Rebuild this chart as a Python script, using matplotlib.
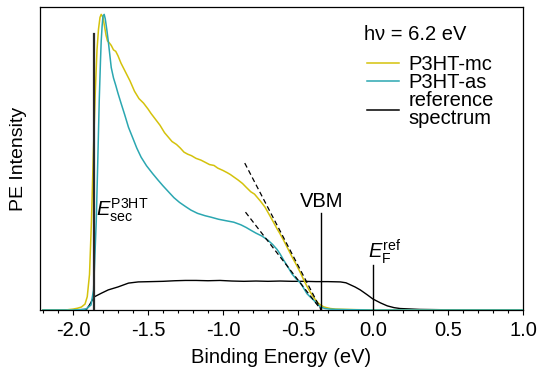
import matplotlib
matplotlib.use("Agg")
import matplotlib.pyplot as plt
from matplotlib.ticker import MultipleLocator

plt.rcParams['font.family'] = ['Liberation Sans', 'DejaVu Sans']
plt.rcParams['mathtext.fontset'] = 'custom'
plt.rcParams['mathtext.rm'] = 'Liberation Sans'
plt.rcParams['mathtext.it'] = 'Liberation Sans:italic'
plt.rcParams['mathtext.bf'] = 'Liberation Sans:bold'

FS = 14.5

# P3HT-mc spectrum (binding energy in eV, normalised intensity)
mc_energy = [-2.20, -2.05, -2.00, -1.97, -1.944, -1.92, -1.905, -1.89, -1.877, -1.865,
             -1.852, -1.84, -1.83, -1.82, -1.812, -1.80, -1.79, -1.78, -1.77, -1.76,
             -1.745, -1.73, -1.715, -1.70, -1.68, -1.66, -1.645, -1.62, -1.59, -1.56,
             -1.53, -1.50, -1.48, -1.45, -1.42, -1.39, -1.365, -1.34, -1.31, -1.285,
             -1.26, -1.235, -1.21, -1.18, -1.147, -1.12, -1.09, -1.06, -1.035, -1.00,
             -0.97, -0.95, -0.928, -0.90, -0.87, -0.845, -0.815, -0.79, -0.77, -0.75,
             -0.72, -0.70, -0.67, -0.64, -0.62, -0.596, -0.57, -0.54, -0.51, -0.483,
             -0.46, -0.44, -0.42, -0.397, -0.38, -0.365, -0.35, -0.33, -0.31, -0.284,
             -0.25, -0.18, -0.10, 0.0, 0.3, 0.6, 1.0]
mc_intensity = [0.0, 0.0, 0.003, 0.006, 0.010, 0.020, 0.045, 0.120, 0.300, 0.520,
                0.730, 0.880, 0.950, 0.990, 1.000, 0.990, 0.960, 0.930, 0.910, 0.905,
                0.895, 0.880, 0.875, 0.860, 0.835, 0.815, 0.800, 0.775, 0.740, 0.715,
                0.700, 0.680, 0.665, 0.645, 0.625, 0.600, 0.585, 0.570, 0.560, 0.548,
                0.534, 0.527, 0.522, 0.513, 0.507, 0.500, 0.492, 0.489, 0.480, 0.472,
                0.464, 0.458, 0.450, 0.440, 0.428, 0.415, 0.400, 0.392, 0.380, 0.368,
                0.348, 0.330, 0.303, 0.275, 0.258, 0.236, 0.210, 0.180, 0.152, 0.125,
                0.100, 0.080, 0.062, 0.044, 0.032, 0.023, 0.017, 0.011, 0.008, 0.005,
                0.003, 0.002, 0.001, 0.0, 0.0, 0.0, 0.0]

# P3HT-as spectrum
as_energy = [-2.20, -2.00, -1.93, -1.91, -1.88, -1.863, -1.845, -1.835, -1.825, -1.817,
             -1.812, -1.806, -1.80, -1.792, -1.785, -1.775, -1.765, -1.755, -1.745, -1.73,
             -1.715, -1.70, -1.68, -1.655, -1.63, -1.60, -1.575, -1.546, -1.51, -1.47,
             -1.434, -1.40, -1.36, -1.327, -1.29, -1.25, -1.214, -1.17, -1.12, -1.08,
             -1.03, -0.98, -0.928, -0.88, -0.845, -0.815, -0.78, -0.74, -0.70, -0.67,
             -0.64, -0.62, -0.596, -0.57, -0.54, -0.51, -0.483, -0.46, -0.44, -0.42,
             -0.397, -0.375, -0.35, -0.32, -0.29, -0.25, -0.15, 0.0, 0.5, 1.0]
as_intensity = [0.0, 0.0, 0.002, 0.004, 0.017, 0.068, 0.300, 0.500, 0.710, 0.840,
                0.910, 0.960, 0.995, 1.000, 0.985, 0.950, 0.910, 0.865, 0.820, 0.785,
                0.760, 0.733, 0.700, 0.660, 0.618, 0.580, 0.548, 0.517, 0.488, 0.462,
                0.440, 0.420, 0.398, 0.380, 0.364, 0.350, 0.338, 0.327, 0.319, 0.314,
                0.307, 0.302, 0.297, 0.288, 0.279, 0.270, 0.260, 0.250, 0.236, 0.222,
                0.205, 0.190, 0.169, 0.148, 0.122, 0.104, 0.091, 0.072, 0.055, 0.045,
                0.034, 0.022, 0.010, 0.005, 0.003, 0.002, 0.001, 0.0, 0.0, 0.0]

# Reference spectrum (metal, Fermi edge at 0 eV)
ref_energy = [-2.20, -2.00, -1.91, -1.89, -1.86, -1.81, -1.765, -1.70, -1.63, -1.565,
              -1.48, -1.40, -1.32, -1.25, -1.18, -1.10, -1.02, -0.94, -0.86, -0.78,
              -0.70, -0.62, -0.54, -0.46, -0.38, -0.30, -0.217, -0.18, -0.15, -0.12,
              -0.085, -0.04, 0.0, 0.05, 0.095, 0.14, 0.18, 0.31, 0.6, 1.0]
ref_intensity = [0.0, 0.0, 0.002, 0.017, 0.044, 0.057, 0.068, 0.078, 0.091, 0.095,
                 0.096, 0.097, 0.099, 0.100, 0.100, 0.099, 0.100, 0.098, 0.097, 0.098,
                 0.097, 0.098, 0.097, 0.097, 0.096, 0.096, 0.095, 0.092, 0.085, 0.078,
                 0.068, 0.052, 0.037, 0.024, 0.014, 0.008, 0.005, 0.002, 0.0, 0.0]

# Linear extrapolations of the leading edges
fit_mc_energy = [-0.855, -0.345]
fit_mc_intensity = [0.497, 0.0]
fit_as_energy = [-0.850, -0.345]
fit_as_intensity = [0.331, 0.0]

# Marker lines: energy and height
e_sec, e_sec_top = -1.86, 0.932
vbm, vbm_top = -0.345, 0.328
e_fermi, e_fermi_top = 0.0, 0.152

yellow = '#d4c20c'
teal = '#2ba7b1'

fig = plt.figure(figsize=(5.42, 3.70), dpi=100)
ax = fig.add_axes([40 / 542, 60 / 370, 483 / 542, 302.7 / 370])

ax.plot(ref_energy, ref_intensity, color='black', lw=1.0, label='reference\nspectrum', zorder=3)
ax.plot(mc_energy, mc_intensity, color=yellow, lw=1.1, label='P3HT-mc', zorder=4)
ax.plot(as_energy, as_intensity, color=teal, lw=1.1, label='P3HT-as', zorder=5)

ax.plot(fit_mc_energy, fit_mc_intensity, color='black', lw=0.9, ls=(0, (4, 2.5)), zorder=6)
ax.plot(fit_as_energy, fit_as_intensity, color='black', lw=0.9, ls=(0, (4, 2.5)), zorder=6)

ax.plot([e_sec, e_sec], [0, e_sec_top], color='#2a2a2a', lw=1.6, zorder=6)
ax.plot([vbm, vbm], [0, vbm_top], color='black', lw=1.0, zorder=6)
ax.plot([e_fermi, e_fermi], [0, e_fermi_top], color='black', lw=1.0, zorder=6)

ax.text(e_sec + 0.012, 0.316, r'$E_{\mathrm{sec}}^{\mathrm{P3HT}}$', fontsize=FS,
        ha='left', va='baseline')
ax.text(vbm, vbm_top + 0.008, 'VBM', fontsize=FS, ha='center', va='bottom')
ax.text(e_fermi - 0.035, 0.176, r'$E_{\mathrm{F}}^{\mathrm{ref}}$', fontsize=FS,
        ha='left', va='baseline')

# Photon energy heading above the legend
ax.text(0.671, 0.892, 'h\u03bd = 6.2 eV', fontsize=FS, ha='left', va='baseline',
        transform=ax.transAxes)

handles, labels = ax.get_legend_handles_labels()
order = [1, 2, 0]
leg = ax.legend([handles[i] for i in order], [labels[i] for i in order],
                fontsize=FS, loc='upper left', bbox_to_anchor=(0.676, 0.842),
                frameon=False, handlelength=1.6, handletextpad=0.5,
                labelspacing=-0.05, borderpad=0, borderaxespad=0)
for line in leg.get_lines():
    line.set_linewidth(1.1)
for t in leg.get_texts():
    t.set_linespacing(0.95)

ax.set_xlim(-2.22, 1.0)
ax.set_ylim(0, 1.024)
ax.xaxis.set_major_locator(MultipleLocator(0.5))
ax.xaxis.set_minor_locator(MultipleLocator(0.1))
ax.tick_params(axis='x', which='major', direction='out', length=3.8, width=0.8,
               labelsize=FS, pad=4)
ax.tick_params(axis='x', which='minor', direction='out', length=2.2, width=0.8)
ax.tick_params(axis='y', left=False, labelleft=False)
ax.xaxis.set_major_formatter(plt.FuncFormatter(lambda v, p: f'{v:.1f}'))
for s in ax.spines.values():
    s.set_linewidth(0.9)

ax.set_xlabel('Binding Energy (eV)', fontsize=FS, labelpad=6)
ax.set_ylabel('PE Intensity', fontsize=14, labelpad=9)

fig.savefig('out.png', dpi=100)
